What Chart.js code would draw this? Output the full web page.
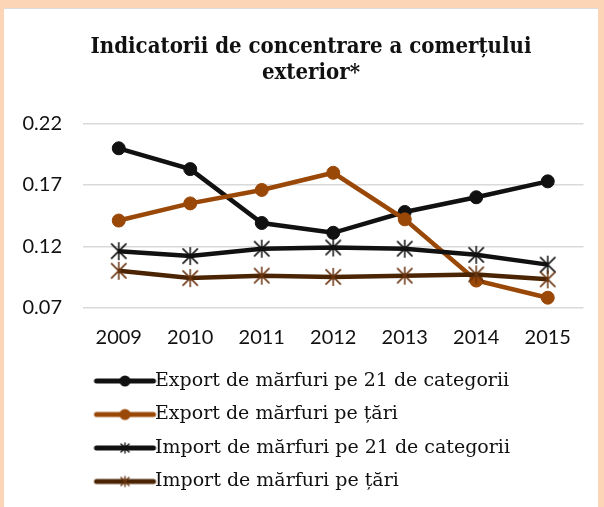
<!DOCTYPE html>
<html><head><meta charset="utf-8">
<script src="https://cdn.jsdelivr.net/npm/chart.js@4/dist/chart.umd.min.js"></script>
<style>
html,body{margin:0;padding:0;background:#fbd5b5;width:604px;height:507px;overflow:hidden}
#panel{position:absolute;left:4px;top:8px;width:594px;height:499px;background:#fff;border-top:1px solid #dcdcdc;box-sizing:border-box}
#c{position:absolute;left:0;top:0}
</style></head><body>
<div id="panel"><canvas id="c" width="594" height="498"></canvas></div>
<script>
const years = ['2009','2010','2011','2012','2013','2014','2015'];
const seriesNames = [
  'Export de mărfuri pe 21 de categorii',
  'Export de mărfuri pe țări',
  'Import de mărfuri pe 21 de categorii',
  'Import de mărfuri pe țări'
];
const exp21 = [0.200,0.183,0.139,0.131,0.148,0.160,0.173];
const expTari = [0.141,0.155,0.166,0.180,0.142,0.092,0.078];
const imp21 = [0.116,0.112,0.118,0.119,0.118,0.113,0.105];
const impTari = [0.100,0.094,0.096,0.095,0.096,0.097,0.093];
const yTicks = [0.07,0.12,0.17,0.22];

const BLACK='#111111', ORANGE='#9a4807', BROWN='#4b2503', BROWNM='#6a3410';

function asterisk(color, size){
  const c=document.createElement('canvas'); c.width=size; c.height=size;
  const g=c.getContext('2d'); g.strokeStyle=color; g.lineWidth=1.5;
  const m=size/2, r=size/2-1;
  g.beginPath();
  g.moveTo(m,m-r); g.lineTo(m,m+r);
  const d=r*0.85;
  g.moveTo(m-d,m-d); g.lineTo(m+d,m+d);
  g.moveTo(m+d,m-d); g.lineTo(m-d,m+d);
  g.stroke();
  return c;
}
function legendSym(color, kind, markColor){
  const W=90,H=14; const c=document.createElement('canvas'); c.width=W; c.height=H;
  const g=c.getContext('2d');
  const x0=LEG_L, x1=LEG_R, cy=H/2;
  g.strokeStyle=color; g.lineWidth=5; g.lineCap='round';
  g.beginPath(); g.moveTo(x0,cy); g.lineTo(x1,cy); g.stroke();
  const mx=(x0+x1)/2;
  if(kind==='circle'){ g.fillStyle=color; g.beginPath(); g.arc(mx,cy,5.5,0,Math.PI*2); g.fill(); }
  else { g.strokeStyle=markColor; g.lineWidth=1.4; g.beginPath();
    g.moveTo(mx,cy-5); g.lineTo(mx,cy+5);
    g.moveTo(mx-4,cy-4); g.lineTo(mx+4,cy+4);
    g.moveTo(mx+4,cy-4); g.lineTo(mx-4,cy+4); g.stroke(); }
  return c;
}
const Y_AXIS_W = 79, PW = 48;
const legendX0 = Y_AXIS_W + 14;
const imgLeft = legendX0 + PW/2 - 45;
const LEG_L = 92 - imgLeft, LEG_R = 149 - imgLeft;

const starBlack = asterisk(BLACK,20), starBrown = asterisk(BROWNM,20);
const legSyms = [legendSym(BLACK,'circle'), legendSym(ORANGE,'circle'), legendSym(BLACK,'star',BLACK), legendSym(BROWN,'star',BROWNM)];

const shiftTitle = { id:'shiftTitle', afterLayout(chart){ const t=chart.titleBlock; if(t){ t.left+=15; t.right+=15; } } };

const serif = "'DejaVu Serif', serif";
new Chart(document.getElementById('c'), {
  type:'line',
  plugins:[shiftTitle],
  data:{labels:years, datasets:[
    {label:seriesNames[0], data:exp21, borderColor:BLACK, backgroundColor:BLACK, borderWidth:4.5, pointStyle:'circle', pointRadius:6.5, pointBorderWidth:1, pointBackgroundColor:BLACK, pointBorderColor:BLACK, order:4},
    {label:seriesNames[1], data:expTari, borderColor:ORANGE, backgroundColor:ORANGE, borderWidth:4.5, pointStyle:'circle', pointRadius:6.5, pointBorderWidth:1, pointBackgroundColor:ORANGE, pointBorderColor:ORANGE, order:3},
    {label:seriesNames[2], data:imp21, borderColor:BLACK, backgroundColor:BLACK, borderWidth:4.5, pointStyle:starBlack, pointRadius:10, order:2},
    {label:seriesNames[3], data:impTari, borderColor:BROWN, backgroundColor:BROWN, borderWidth:4.5, pointStyle:starBrown, pointRadius:10, order:1}
  ]},
  options:{
    responsive:false, animation:false, devicePixelRatio:1,
    layout:{padding:{left:0,right:10,top:0,bottom:6}},
    plugins:{
      tooltip:{enabled:false},
      title:{display:true, text:['Indicatorii de concentrare a comerțului','exterior*'], color:'#111',
        font:{family:"'DejaVu Serif Condensed', 'DejaVu Serif', serif", size:22, weight:'bold', lineHeight:1.2}, padding:{top:25,bottom:37}},
      legend:{position:'bottom', align:'start', fullSize:false,
        labels:{usePointStyle:true, pointStyleWidth:PW, padding:14.5, color:'#111',
          font:{family:serif, size:19},
          sort:(a,b)=>a.datasetIndex-b.datasetIndex,
          generateLabels:(chart)=>{
            const items = Chart.defaults.plugins.legend.labels.generateLabels(chart);
            items.forEach(it=>{ it.pointStyle = legSyms[it.datasetIndex]; });
            return items;
          }}}
    },
    scales:{
      x:{offset:true, grid:{display:false}, border:{display:false},
        ticks:{color:'#111', font:{family:'Lato', size:20}, padding:10},
        afterFit:(s)=>{ s.height = 49.5; }},
      y:{min:0.07, max:0.22, border:{display:false},
        grid:{color:'#d9d9d9', lineWidth:1.5, drawTicks:false},
        afterBuildTicks:(s)=>{ s.ticks = yTicks.map(v=>({value:v})); },
        ticks:{color:'#111', font:{family:'Lato', size:20}, padding:21, callback:(v)=>Number(v).toFixed(2)},
        afterFit:(s)=>{ s.width = Y_AXIS_W; }}
    }
  }
});
</script>
</body></html>
